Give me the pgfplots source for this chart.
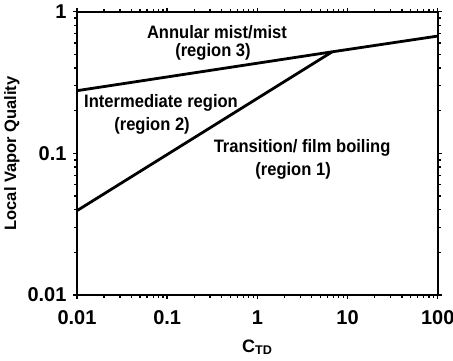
\documentclass[border=0pt]{standalone}
\usepackage{fontspec}
\setmainfont{Liberation Sans}
\usepackage{pgfplots}
\pgfplotsset{compat=1.18}

\begin{document}
\begin{tikzpicture}
\begin{axis}[
    scale only axis,
    width=360.7pt, height=283.3pt,
    xmode=log, ymode=log,
    xmin=0.01, xmax=100, ymin=0.01, ymax=1,
    xtick={0.01,0.1,1,10,100},
    xticklabels={0.01,0.1,1,10,100},
    ytick={0.01,0.1,1},
    yticklabels={0.01,0.1,1},
    minor xtick={}, minor ytick={},
    tick align=outside,
    major tick length=4pt,
    axis line style={line width=1.8pt},
    every tick/.style={line width=1.4pt, black},
    /pgf/number format/assume math mode=true,
    ticklabel style={font=\fontsize{20}{23}\selectfont\bfseries},
    xticklabel style={yshift=-8pt},
    yticklabel style={xshift=-3pt},
    xlabel={C\textsubscript{TD}},
    ylabel={Local Vapor Quality},
    xlabel style={font=\fontsize{18}{21}\selectfont\bfseries, yshift=-8pt},
    ylabel style={font=\fontsize{16.5}{20}\selectfont\bfseries, yshift=1pt},
    clip=false,
]
% boundary between region 3 and regions 1/2
\addplot[black, line width=2.8pt] coordinates {(0.01,0.277) (6.76,0.521) (100,0.673)};
% boundary between region 2 and region 1
\addplot[black, line width=2.8pt] coordinates {(0.01,0.0394) (6.76,0.521)};
\begin{scope}[every node/.style={font=\fontsize{18}{21}\selectfont\bfseries, xscale=0.92}]
\node at (rel axis cs:0.388,0.928) {Annular mist/mist};
\node at (rel axis cs:0.377,0.858) {(region 3)};
\node at (rel axis cs:0.233,0.678) {Intermediate region};
\node at (rel axis cs:0.208,0.597) {(region 2)};
\node at (rel axis cs:0.624,0.519) {Transition/ film boiling};
\node at (rel axis cs:0.599,0.438) {(region 1)};
\end{scope}
\end{axis}
\pgfresetboundingbox
\useasboundingbox (-77pt,-66pt) rectangle (376pt,295pt);
\end{tikzpicture}
\end{document}
